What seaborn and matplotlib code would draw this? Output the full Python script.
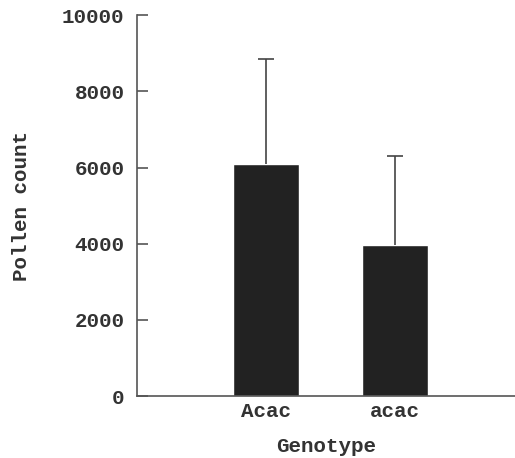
import numpy as np
import pandas as pd
import matplotlib
matplotlib.use("Agg")
import matplotlib.pyplot as plt
import seaborn as sns

# data
genotype = ["Acac", "acac"]
pollen_mean = [6100, 3980]
pollen_sd = [2740, 2330]

df = pd.DataFrame({"Genotype": genotype, "Pollen count": pollen_mean})

sns.set_style("white")
plt.rcParams["font.family"] = ["Liberation Mono", "DejaVu Sans Mono"]
plt.rcParams["font.weight"] = "bold"

fig = plt.figure(figsize=(5.15, 4.58), dpi=100)
ax = fig.add_axes([0.266, 0.135, 0.734, 0.832])

sns.barplot(data=df, x="Genotype", y="Pollen count", color="#222222",
            width=0.51, errorbar=None, saturation=1, ax=ax)
eb = ax.errorbar(range(len(genotype)), pollen_mean,
                 yerr=[np.zeros(len(pollen_sd)), pollen_sd],
                 fmt="none", ecolor="#444444", elinewidth=1.2,
                 capsize=6, capthick=1.2)
# only the upper cap is shown
eb[1][0].set_visible(False)

ax.set_ylim(0, 10000)
ax.set_xlim(-1.0, 1.93)
ax.set_yticks([0, 2000, 4000, 6000, 8000, 10000])
ax.tick_params(axis="y", left=True, direction="in", length=8, width=1.2,
               color="#555555", labelsize=15, pad=9, labelcolor="#333333")
ax.tick_params(axis="x", bottom=False, labelsize=15, pad=1, labelcolor="#333333")
sns.despine(ax=ax)
for s in ["left", "bottom"]:
    ax.spines[s].set_color("#555555")
    ax.spines[s].set_linewidth(1.2)

ax.set_xlabel("Genotype", fontsize=15, fontweight="bold", labelpad=11, color="#333333")
ax.set_ylabel("Pollen count", fontsize=15, fontweight="bold", labelpad=22, color="#333333")

fig.savefig("out.png", dpi=100)
